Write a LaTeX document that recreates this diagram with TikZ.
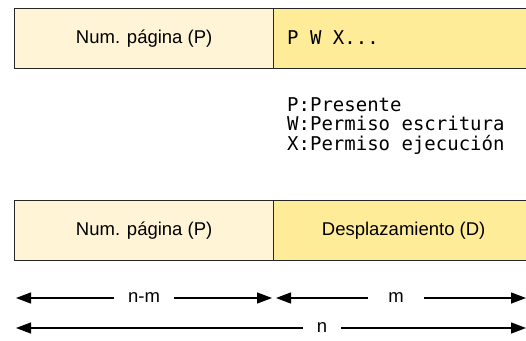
\documentclass[tikz,border=0pt]{standalone}
\usepackage{fontspec}
\setmainfont{Liberation Sans}
\setmonofont{DejaVu Sans Mono}
\usetikzlibrary{arrows.meta}
\definecolor{clara}{HTML}{FFF4D6}
\definecolor{oscura}{HTML}{FFEC99}
\tikzset{
  campo/.style={draw=black!85, line width=1.3pt, minimum height=60pt, inner sep=0pt, anchor=north west},
  cota/.style={line width=1.3pt, {Triangle[length=15pt,width=11pt]}-{Triangle[length=15pt,width=11pt]}},
  etiq/.style={fill=white, inner xsep=14pt, inner ysep=2pt},
  mono/.style={font=\ttfamily\fontsize{19}{19.8}\selectfont, inner sep=0pt}
}
\begin{document}
\begin{tikzpicture}[x=1pt, y=-1pt, font=\fontsize{18.5}{22}\selectfont]
\useasboundingbox (0,0) rectangle (526,340);
% entrada de la tabla
\node[campo, fill=clara, minimum width=259pt] (pag1) at (14,8) {Num. página (P)};
\node[campo, fill=oscura, minimum width=260pt] (bits) at (273,8) {};
\node[mono, anchor=base west] (pwx) at (287,44) {P W X...};
\node[mono, anchor=north west, align=left] (leyenda) at (287,97)
  {P:Presente\\W:Permiso escritura\\X:Permiso ejecución};
% direccion
\node[campo, fill=clara, minimum width=259pt] (pag2) at (14,200) {Num. página (P)};
\node[campo, fill=oscura, minimum width=260pt] (desp) at (273,200) {Desplazamiento (D)};
% cotas
\coordinate (c0) at (16,298);
\coordinate (c1) at (272,298);
\coordinate (c2) at (276,298);
\coordinate (c3) at (526,298);
\coordinate (d0) at (16,328);
\coordinate (d1) at (526,328);
\draw[cota] (c0) -- (c1) node[etiq, midway] (lnm) {n-m};
\draw[cota] (c2) -- (c3) node[etiq, pos=0.48, inner xsep=20pt] (lm) {m};
\draw[cota] (d0) -- (d1) node[etiq, pos=0.6] (ln) {n};
\end{tikzpicture}
\end{document}
